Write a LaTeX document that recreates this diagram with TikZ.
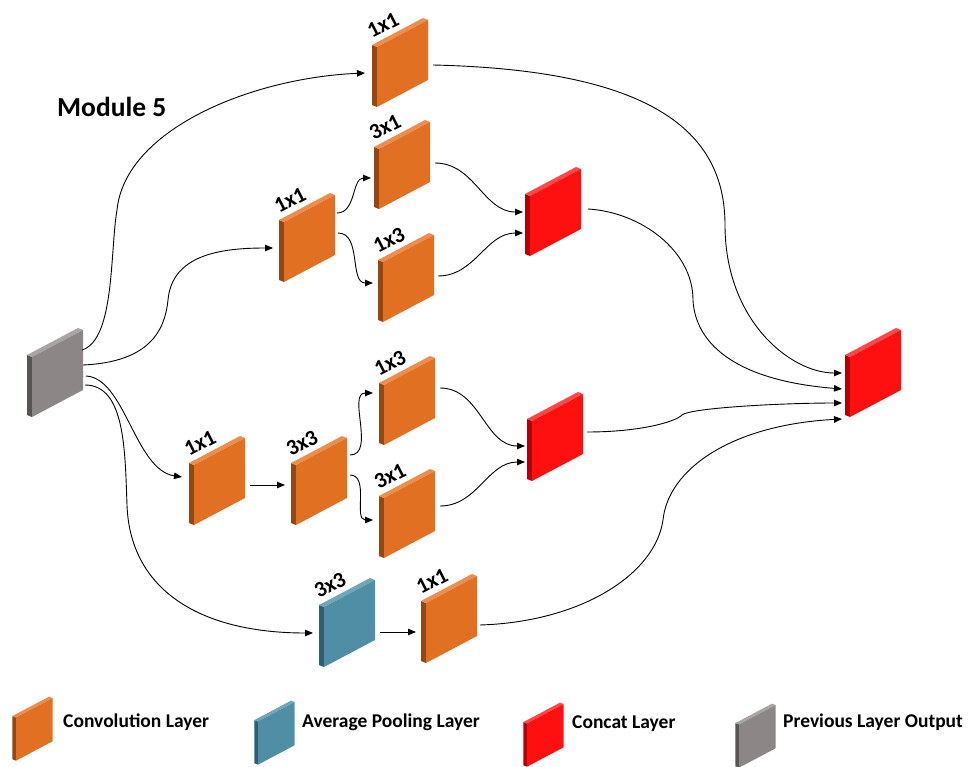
\documentclass[tikz,border=0pt]{standalone}
\usepackage{fontspec}
\setmainfont{Carlito}
\usetikzlibrary{arrows.meta,calc}

% face colours: F = front, S = left side, T = top bevel
\definecolor{convF}{RGB}{225,112,35}
\definecolor{convS}{RGB}{150,70,18}
\definecolor{convT}{RGB}{238,142,78}
\definecolor{poolF}{RGB}{80,142,166}
\definecolor{poolS}{RGB}{42,96,116}
\definecolor{poolT}{RGB}{112,166,188}
\definecolor{catF}{RGB}{255,16,16}
\definecolor{catS}{RGB}{180,0,0}
\definecolor{catT}{RGB}{255,72,72}
\definecolor{prevF}{RGB}{140,134,134}
\definecolor{prevS}{RGB}{88,84,84}
\definecolor{prevT}{RGB}{170,165,165}

\tikzset{
  lbl/.style={rotate=27, inner sep=0pt, font=\bfseries\fontsize{22}{22}\selectfont},
  legtext/.style={anchor=base west, inner sep=0pt, font=\bfseries\fontsize{19.5}{19.5}\selectfont},
  conn/.style={draw, line width=0.9pt, -{Triangle[length=8pt,width=6.5pt]}},
}

% a thin 3-D slab: name, x, y, colour stem, scale
\newcommand\slab[5]{%
  \begin{scope}[shift={(#2,#3)},scale=#5]
    \fill[#4S] (-25,-16) -- (-30,-18) -- (-30,42) -- (-25,44) -- cycle;
    \fill[#4T] (-25,-16) -- (-30,-18) -- (21,-45) -- (26,-43) -- cycle;
    \fill[#4F] (-25,-16) -- (26,-43) -- (26,17) -- (-25,44) -- cycle;
  \end{scope}
  \coordinate (#1) at (#2,#3);
}
% kernel-size caption along the top edge of a slab
\newcommand\slabcaption[2]{\node[lbl] at ($(#1)+(-19,-38)$) {#2};}

\begin{document}
\begin{tikzpicture}[x=1pt,y=-1pt]
\useasboundingbox (0,0) rectangle (969,767);
\clip (0,0) rectangle (969,767);

% layers
\slab{G}{57}{373}{prev}{1}
\slab{A}{402}{63}{conv}{1}
\slab{B}{309}{238}{conv}{1}
\slab{C}{404}{165}{conv}{1}
\slab{D}{408}{278}{conv}{1}
\slab{R1}{555}{212}{cat}{1}
\slab{E}{409}{401}{conv}{1}
\slab{R2}{557}{437}{cat}{1}
\slab{F}{219}{481}{conv}{1}
\slab{H}{321}{481}{conv}{1}
\slab{I}{409}{514}{conv}{1}
\slab{P}{349}{623}{pool}{1}
\slab{J}{451}{619}{conv}{1}
\slab{R3}{875}{373}{cat}{1}

\slabcaption{A}{1x1}
\slabcaption{B}{1x1}
\slabcaption{C}{3x1}
\slabcaption{D}{1x3}
\slabcaption{E}{1x3}
\slabcaption{F}{1x1}
\slabcaption{H}{3x3}
\slabcaption{I}{3x1}
\slabcaption{P}{3x3}
\slabcaption{J}{1x1}

\node[anchor=base west, inner sep=0pt, font=\bfseries\fontsize{27.5}{27.5}\selectfont] (title) at (57,117) {Module 5};

% branches leaving the previous layer
\draw[conn] ($(G)+(25,-23)$) .. controls (115,340) and (110,250) .. (117,210)
            .. controls (125,130) and (250,78) .. ($(A)+(-37,10)$);
\draw[conn] ($(G)+(26,-8)$) .. controls (150,362) and (165,330) .. (168,300)
            .. controls (172,255) and (220,248) .. ($(B)+(-36,10)$);
\draw[conn] ($(G)+(29,3)$) .. controls (125,378) and (135,470) .. ($(F)+(-37,-4)$);
\draw[conn] ($(G)+(28,12)$) .. controls (125,385) and (125,450) .. (127,505)
            .. controls (130,590) and (200,633) .. ($(P)+(-36,10)$);

% 1x1 -> 3x1 / 1x3 branch
\draw[conn] ($(B)+(28,-25)$) to[out=0,in=180] ($(C)+(-33,13)$);
\draw[conn] ($(B)+(29,-5)$) to[out=0,in=180] ($(D)+(-35,5)$);
\draw[conn] ($(C)+(31,-2)$) to[out=0,in=180] ($(R1)+(-32,0)$);
\draw[conn] ($(D)+(30,-2)$) to[out=0,in=180] ($(R1)+(-32,21)$);

% 1x1 -> 3x3 -> 1x3 / 3x1 branch
\draw[conn] ($(F)+(31,4)$) -- ($(H)+(-36,4)$);
\draw[conn] ($(H)+(29,-26)$) to[out=0,in=180] ($(E)+(-36,-8)$);
\draw[conn] ($(H)+(29,-6)$) to[out=0,in=180] ($(I)+(-36,6)$);
\draw[conn] ($(E)+(31,-13)$) to[out=0,in=180] ($(R2)+(-32,9)$);
\draw[conn] ($(I)+(31,-8)$) to[out=0,in=180] ($(R2)+(-32,25)$);

% pooling branch
\draw[conn] ($(P)+(31,9)$) -- ($(J)+(-35,13)$);

% into the final concatenation
\draw[conn] ($(A)+(31,2)$) .. controls (650,70) and (725,130) .. (725,225)
            .. controls (725,320) and (790,373) .. ($(R3)+(-33,0)$);
\draw[conn] ($(R1)+(33,-3)$) .. controls (640,212) and (693,250) .. (693,300)
            .. controls (695,340) and (730,380) .. ($(R3)+(-33,16)$);
\draw[conn] ($(R2)+(30,-5)$) .. controls (640,432) and (675,422) .. (682,415)
            .. controls (690,408) and (780,403) .. ($(R3)+(-33,30)$);
\draw[conn] ($(J)+(29,6)$) .. controls (580,622) and (655,575) .. (663,520)
            .. controls (668,470) and (730,425) .. ($(R3)+(-33,46)$);

% legend
\slab{Lconv}{34}{729}{conv}{0.72}
\slab{Lpool}{276}{733}{pool}{0.72}
\slab{Lcat}{545}{735}{cat}{0.72}
\slab{Lprev}{757}{736}{prev}{0.72}
\node[legtext] (tconv) at (63,727) {Convolution Layer};
\node[legtext] (tpool) at (302,727) {Average Pooling Layer};
\node[legtext] (tcat) at (572,728) {Concat Layer};
\node[legtext] (tprev) at (783,727) {Previous Layer Output};
\end{tikzpicture}
\end{document}
